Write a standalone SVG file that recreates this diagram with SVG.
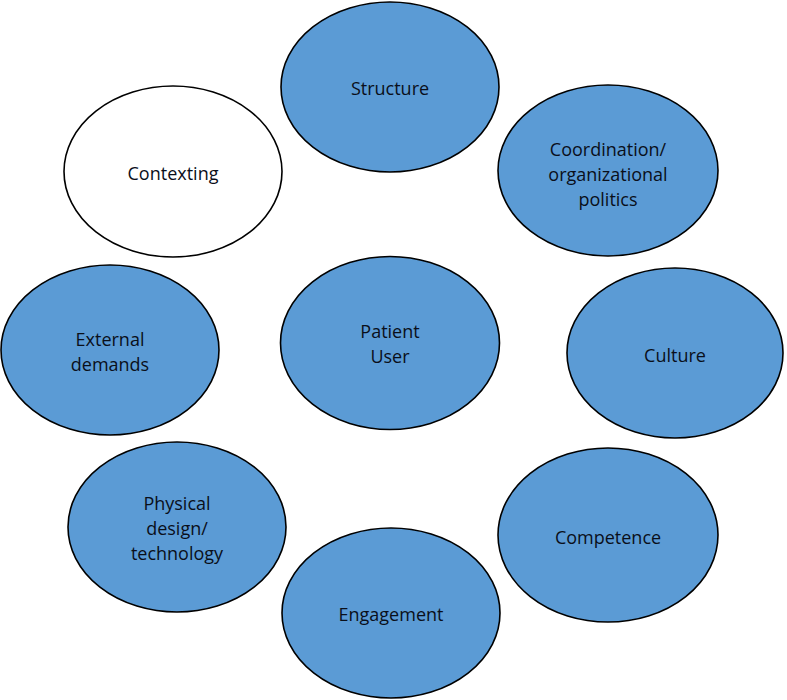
<svg xmlns="http://www.w3.org/2000/svg" width="787" height="700" viewBox="0 0 787 700">
<style>
.n{fill:#5b9bd5;stroke:#000;stroke-width:1.6}
.w{fill:#fff;stroke:#000;stroke-width:1.6}
text{font-family:"Open Sans","Liberation Sans",sans-serif;font-size:18px;fill:#0a0f1a;text-anchor:middle;dominant-baseline:central}
</style>
<rect width="787" height="700" fill="#fff"/>
<g id="connectors"></g>
<g id="structure"><ellipse class="n" cx="390" cy="87" rx="109" ry="85"/><text x="390" y="88">Structure</text></g>
<g id="contexting"><ellipse class="w" cx="173" cy="171.5" rx="109" ry="85.5"/><text x="173" y="173">Contexting</text></g>
<g id="coordination"><ellipse class="n" cx="608" cy="170.5" rx="110" ry="85.5"/><text x="608" y="149">Coordination/</text><text x="608" y="174">organizational</text><text x="608" y="199">politics</text></g>
<g id="external"><ellipse class="n" cx="110" cy="350" rx="109" ry="85"/><text x="110" y="339">External</text><text x="110" y="364">demands</text></g>
<g id="patient"><ellipse class="n" cx="390" cy="343" rx="109.5" ry="86.5"/><text x="390" y="331">Patient</text><text x="390" y="356">User</text></g>
<g id="culture"><ellipse class="n" cx="675" cy="353" rx="108" ry="85"/><text x="675" y="355">Culture</text></g>
<g id="physical"><ellipse class="n" cx="177" cy="527" rx="109" ry="85"/><text x="177" y="503">Physical</text><text x="177" y="528">design/</text><text x="177" y="553">technology</text></g>
<g id="competence"><ellipse class="n" cx="608" cy="535" rx="110" ry="87"/><text x="608" y="537">Competence</text></g>
<g id="engagement"><ellipse class="n" cx="391" cy="613" rx="109" ry="85"/><text x="391" y="614">Engagement</text></g>
</svg>
